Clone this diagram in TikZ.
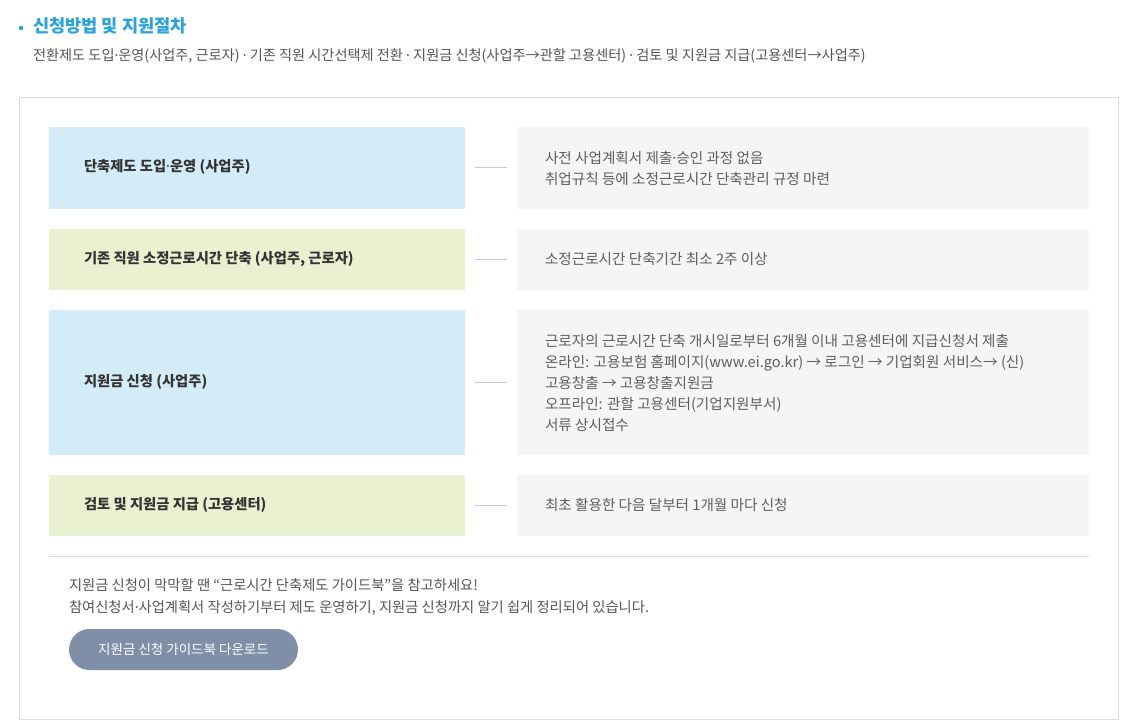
\documentclass[tikz,border=0pt]{standalone}
\usepackage{fontspec}
\newfontfamily\kr{Noto Sans CJK KR}
\newfontfamily\latinsans{Noto Sans}
\newcommand{\md}{{\latinsans ·}}
\definecolor{titleblue}{HTML}{2AA3DC}
\definecolor{txt}{HTML}{555555}
\definecolor{dtxt}{HTML}{5E5E5E}
\definecolor{dark}{HTML}{333333}
\definecolor{boxblue}{HTML}{D4ECF8}
\definecolor{boxgreen}{HTML}{EAF1D0}
\definecolor{boxgray}{HTML}{F5F5F5}
\definecolor{linegray}{HTML}{DDDDDD}
\definecolor{btn}{HTML}{7F8FA8}
\begin{document}
\begin{tikzpicture}[x=1pt,y=-1pt,
  every node/.style={inner sep=0pt,outer sep=0pt},
  steptext/.style={anchor=west,font=\kr\fontsize{14.3}{16}\selectfont\bfseries,text=dark},
  desctext/.style={anchor=west,align=left,font=\kr\fontsize{14.6}{21}\selectfont,text=dtxt},
  link/.style={draw=linegray!80!gray,line width=1pt}]
\useasboundingbox (0,0) rectangle (1121,724);
\fill[white] (0,0) rectangle (1121,724);
% header
\fill[titleblue] (21,28) circle (2.2);
\node[anchor=west,font=\kr\fontsize{17.6}{20}\selectfont\bfseries,text=titleblue] (title) at (33,26) {신청방법 및 지원절차};
\node[anchor=west,font=\kr\fontsize{14.2}{16}\selectfont,text=txt] (sub) at (33,56) {전환제도 도입\md 운영(사업주, 근로자) \md\ 기존 직원 시간선택제 전환 \md\ 지원금 신청(사업주→관할 고용센터) \md\ 검토 및 지원금 지급(고용센터→사업주)};
% outer frame
\draw[linegray] (19.5,97.5) rectangle (1118.5,719.5);
% row 1
\fill[boxblue] (49,127) rectangle (465,209);
\node[steptext] (s1) at (84,167) {단축제도 도입\md 운영 (사업주)};
\fill[boxgray] (517,127) rectangle (1089,209);
\node[desctext] (d1) at (545,168) {사전 사업계획서 제출\md 승인 과정 없음\\취업규칙 등에 소정근로시간 단축관리 규정 마련};
\coordinate (l1a) at (475,167); \coordinate (l1b) at (507,167);
\draw[link] (l1a) -- (l1b);
% row 2
\fill[boxgreen] (49,229) rectangle (465,290);
\node[steptext] (s2) at (84,259) {기존 직원 소정근로시간 단축 (사업주, 근로자)};
\fill[boxgray] (517,229) rectangle (1089,290);
\node[desctext] (d2) at (545,259) {소정근로시간 단축기간 최소 2주 이상};
\coordinate (l2a) at (475,259); \coordinate (l2b) at (507,259);
\draw[link] (l2a) -- (l2b);
% row 3
\fill[boxblue] (49,310) rectangle (465,455);
\node[steptext] (s3) at (84,382) {지원금 신청 (사업주)};
\fill[boxgray] (517,310) rectangle (1089,455);
\node[desctext] (d3) at (545,383) {근로자의 근로시간 단축 개시일로부터 6개월 이내 고용센터에 지급신청서 제출\\온라인: 고용보험 홈페이지(www.ei.go.kr) → 로그인 → 기업회원 서비스→ (신)\\고용창출 → 고용창출지원금\\오프라인: 관할 고용센터(기업지원부서)\\서류 상시접수};
\coordinate (l3a) at (475,382); \coordinate (l3b) at (507,382);
\draw[link] (l3a) -- (l3b);
% row 4
\fill[boxgreen] (49,475) rectangle (465,536);
\node[steptext] (s4) at (84,505) {검토 및 지원금 지급 (고용센터)};
\fill[boxgray] (517,475) rectangle (1089,536);
\node[desctext] (d4) at (545,505) {최초 활용한 다음 달부터 1개월 마다 신청};
\coordinate (l4a) at (475,505); \coordinate (l4b) at (507,505);
\draw[link] (l4a) -- (l4b);
% separator
\draw[linegray] (49,556.5) -- (1089,556.5);
\node[anchor=west,align=left,font=\kr\fontsize{14.3}{22}\selectfont,text=txt] (note) at (69,597) {지원금 신청이 막막할 땐 “근로시간 단축제도 가이드북”을 참고하세요!\\참여신청서\md 사업계획서 작성하기부터 제도 운영하기, 지원금 신청까지 알기 쉽게 정리되어 있습니다.};
\node[fill=btn,rounded corners=20.5pt,minimum width=229pt,minimum height=41pt,text=white,font=\kr\fontsize{13.5}{16}\selectfont] (btn) at (183.5,649.5) {지원금 신청 가이드북 다운로드};
\end{tikzpicture}
\end{document}
